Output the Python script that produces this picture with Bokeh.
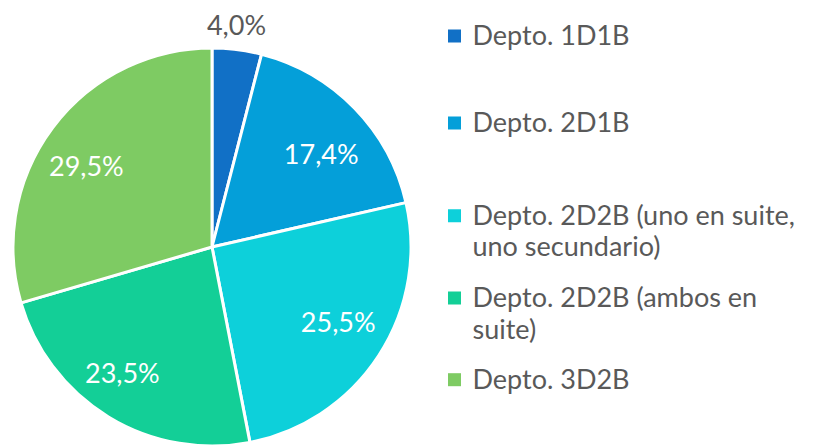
import math
from bokeh.plotting import figure
from bokeh.models import Range1d, ColumnDataSource
from bokeh.core.properties import value
from bokeh.embed import file_html
from bokeh.resources import INLINE

# ---- data ----
categories = ["Depto. 1D1B", "Depto. 2D1B",
              "Depto. 2D2B (uno en suite,\nuno secundario)",
              "Depto. 2D2B (ambos en\nsuite)", "Depto. 3D2B"]
shares = [4.0, 17.4, 25.5, 23.5, 29.5]
labels = ["4,0%", "17,4%", "25,5%", "23,5%", "29,5%"]
colors = ["#1170C6", "#049FD9", "#0DD0DA", "#13CF97", "#7ECB63"]

W, H = 815, 446
FONT = "Lato"
GRAY = "#595959"

def Y(page_y):
    return H - page_y

def X(page_x):
    return page_x

p = figure(width=W, height=H, output_backend="svg", toolbar_location=None,
           x_range=Range1d(0, W), y_range=Range1d(0, H), min_border=0)
p.axis.visible = False
p.grid.visible = False
p.outline_line_color = None

cx, cy, r = X(211.5), Y(246.5), 199

total = sum(shares)
starts, ends, mids = [], [], []
acc = 0.0
for s in shares:
    a0 = math.pi / 2 - 2 * math.pi * acc / total
    acc += s
    a1 = math.pi / 2 - 2 * math.pi * acc / total
    starts.append(a0)
    ends.append(a1)
    mids.append((a0 + a1) / 2)

src = ColumnDataSource(dict(start=starts, end=ends, color=colors))
p.wedge(x=cx, y=cy, radius=r, start_angle="start", end_angle="end",
        direction="clock", fill_color="color", line_color="white",
        line_width=3, source=src)

# data labels (small screen-pixel nudges mimic the original's placement)
nudge_x = [-3.5, 3, 2, -12.5, -7]
nudge_y = [-1.5, 9.5, -6, -1, 7.5]
lx, ly, lc = [], [], []
for i, m in enumerate(mids):
    rr = r * 0.745 if i > 0 else r + 24
    lx.append(cx + rr * math.cos(m))
    ly.append(cy + rr * math.sin(m))
    lc.append("white" if i > 0 else GRAY)
lsrc = ColumnDataSource(dict(x=lx, y=ly, t=labels, c=lc, xo=nudge_x, yo=nudge_y))
p.text(x="x", y="y", text="t", text_color="c", x_offset="xo", y_offset="yo",
       text_font=value(FONT), text_font_size="27px", text_align="center",
       text_baseline="middle", source=lsrc)

# legend (manual), positions = visual centre of each text line
item_centers = [34, 121, 213.7, 296, 377.7]
line_gap = 31.5
sq_x = X(454)
tx = X(472)
for i, cat in enumerate(categories):
    lines = cat.split("\n")
    c = item_centers[i]
    p.rect(x=[sq_x], y=[Y(c + 1.5)], width=13, height=13,
           fill_color=colors[i], line_color=None)
    p.text(x=[tx] * len(lines), y=[Y(c + k * line_gap) for k in range(len(lines))],
           text=lines, text_color=GRAY, text_font=value(FONT),
           text_font_size="27px", text_align="left", text_baseline="middle")

open("out.html", "w").write(file_html(p, INLINE))
